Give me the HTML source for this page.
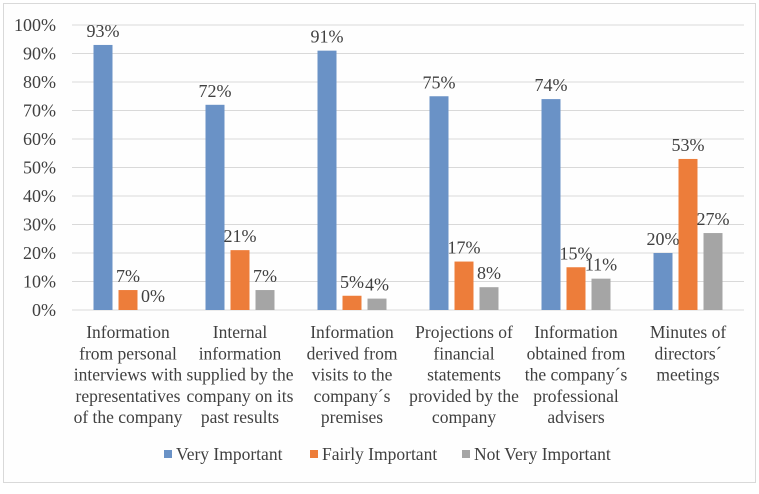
<!DOCTYPE html>
<html><head><meta charset="utf-8"><style>
body{margin:0;background:#fff;}
svg, svg text{font-family:"Liberation Serif","Times New Roman","DejaVu Serif",serif !important;}
svg text{fill:#404040;}
</style></head><body>
<svg id="chart" width="759" height="489" xmlns="http://www.w3.org/2000/svg" font-family="Liberation Serif, Times New Roman, serif">
<rect x="3.5" y="3.5" width="752" height="479" fill="#fefefe" stroke="#d9d9d9"/>
<g id="grid"></g><g id="bars"></g><g id="labels"></g><g id="legend"></g>
</svg>
<script>
const categories=[["Information","from personal","interviews with","representatives","of the company"],["Internal","information","supplied by the","company on its","past results"],["Information","derived from","visits to the","company´s","premises"],["Projections of","financial","statements","provided by the","company"],["Information","obtained from","the company´s","professional","advisers"],["Minutes of","directors´","meetings"]];
const seriesNames=["Very Important","Fairly Important","Not Very Important"];
const veryImportant=[93,72,91,75,74,20];
const fairlyImportant=[7,21,5,17,15,53];
const notVeryImportant=[0,7,4,8,11,27];
const yTicks=[0,10,20,30,40,50,60,70,80,90,100];
const colors=["#6a92c6","#ed7d3a","#a5a5a5"];
const NS="http://www.w3.org/2000/svg";
const x0=72,catW=112,y0=310,pxPer=2.85;
const yScale=v=>y0-v*pxPer;
const xCenter=i=>x0+catW*i+catW/2;
function mk(tag,attrs,parent,text){const e=document.createElementNS(NS,tag);for(const k in attrs)e.setAttribute(k,attrs[k]);if(text!==undefined){e.textContent=text;e.setAttribute("font-family","Liberation Serif, serif");}document.getElementById(parent).appendChild(e);return e;}
yTicks.forEach(t=>{
 const l=mk("line",{x1:x0,x2:x0+catW*6,y1:yScale(t),y2:yScale(t),stroke:"#d9d9d9","stroke-width":1},"grid");
 
 
 const tx=mk("text",{x:56,y:yScale(t)+6,"text-anchor":"end","font-size":"18"},"grid",t+"%");
 
 
});
const series=[veryImportant,fairlyImportant,notVeryImportant];
series.forEach((s,si)=>{
 s.forEach((v,i)=>{
  const cx=xCenter(i)+(si-1)*25;
  const r=mk("rect",{x:cx-9.5,y:yScale(v),width:19,height:v*pxPer,fill:colors[si]},"bars");
  
  
  const t=mk("text",{x:cx,y:yScale(v)-8,"text-anchor":"middle","font-size":"18"},"bars",v+"%");
  
  
 });
});
categories.forEach((lines,i)=>{
 lines.forEach((ln,j)=>{
  const t=mk("text",{x:xCenter(i),y:338+j*21.3,"text-anchor":"middle","font-size":"17.5"},"labels",ln);
  
  
 });
});
const legX=[164,310,462];
seriesNames.forEach((n,i)=>{
 const r=mk("rect",{x:legX[i],y:450,width:8,height:8,fill:colors[i]},"legend");
 
 
 const t=mk("text",{x:legX[i]+12,y:460,"font-size":"17.5"},"legend",n);
 
 
});
</script>
</body></html>
